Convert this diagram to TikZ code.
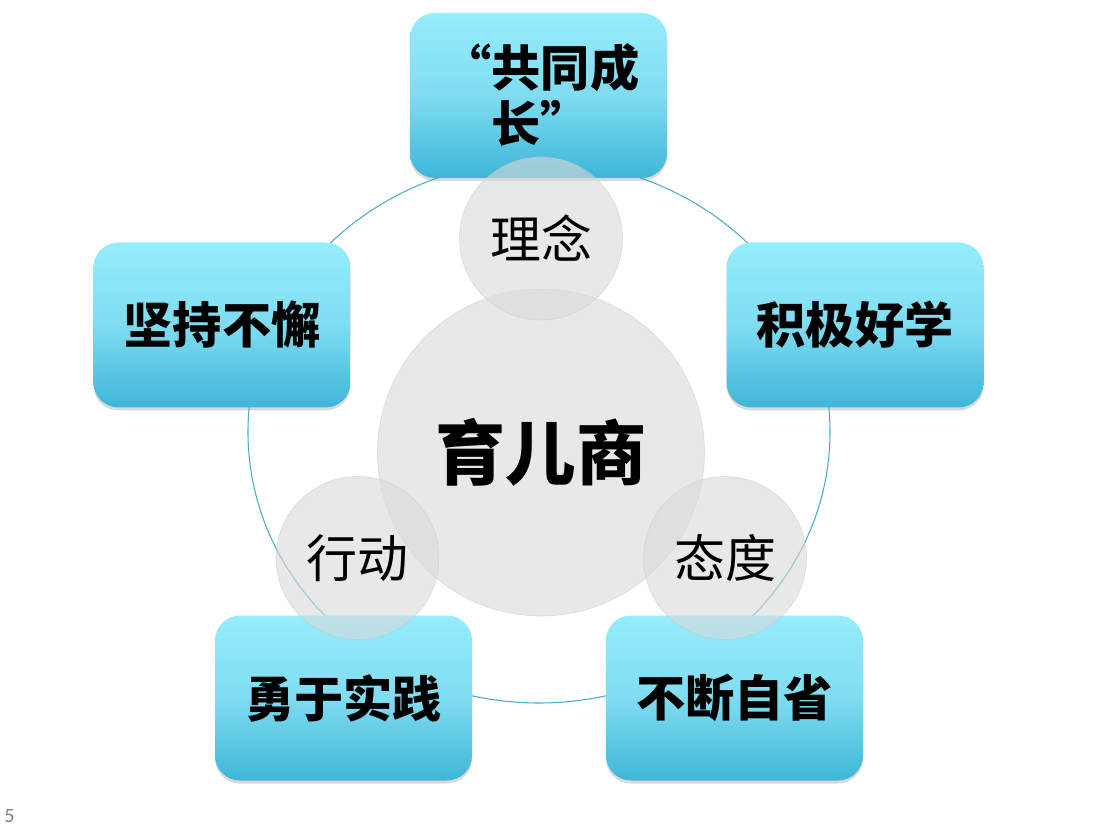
\documentclass[tikz,border=0pt]{standalone}
\usepackage{fontspec}
\newfontfamily\cjk{Noto Sans CJK SC}
\newfontfamily\slidefont{Carlito}
\definecolor{yrcyan}{HTML}{95EDFD}
\definecolor{yrmid}{HTML}{7FDCF1}
\definecolor{yrdeep}{HTML}{3EB6D8}
\definecolor{yrring}{HTML}{4BACC6}
\definecolor{yrgray}{HTML}{D9D9D9}
\usepackage{tikz}
\usetikzlibrary{shadows}

\begin{document}
\begin{tikzpicture}[
  pillar/.style={rounded corners=0.5cm,minimum width=5.14cm,minimum height=3.3cm,
    top color=yrcyan,bottom color=yrdeep,middle color=yrmid,
    drop shadow={shadow xshift=0pt,shadow yshift=-0.06cm,opacity=0.3},
    font=\cjk\bfseries\fontsize{28}{32}\selectfont},
  tag/.style={font=\cjk\bfseries\fontsize{28}{32}\selectfont,inner sep=0pt},
  bubble/.style={circle,minimum size=3.26cm,fill=yrgray,fill opacity=0.6,
    text opacity=1,draw=black!25,draw opacity=0.4,
    font=\cjk\fontsize{29}{33}\selectfont},
  hub/.style={bubble,minimum size=6.54cm,
    font=\cjk\bfseries\fontsize{40}{44}\selectfont},
  ring/.style={draw=yrring,line width=0.6pt}]
  \useasboundingbox (0,0) rectangle (22.02,16.56);
  \coordinate (mid) at (10.78,7.92);
  \draw[ring] (mid) ellipse [x radius=5.82cm,y radius=5.42cm];
  \node[pillar] (idea) at (10.77,14.65) {};
  \node[tag,align=left] (ideatxt) at (11.31,14.66) {\llap{“}共同成\\长”};
  \node[pillar] (keep) at (4.44,10.06) {坚持不懈};
  \node[pillar] (learn) at (17.10,10.06) {积极好学};
  \node[pillar] (try) at (6.87,2.60) {勇于实践};
  \node[pillar] (self) at (14.69,2.60) {不断自省};
  \node[hub] (core) at (10.82,7.51) {育儿商};
  \node[bubble] (belief) at (10.82,11.79) {理念};
  \node[bubble] (act) at (7.15,5.40) {行动};
  \node[bubble] (mood) at (14.50,5.40) {态度};
  \node[font=\slidefont\fontsize{11.5}{13}\selectfont,text=black!50,
    inner sep=0pt] (page) at (0.19,0.24) {5};
\end{tikzpicture}
\end{document}
